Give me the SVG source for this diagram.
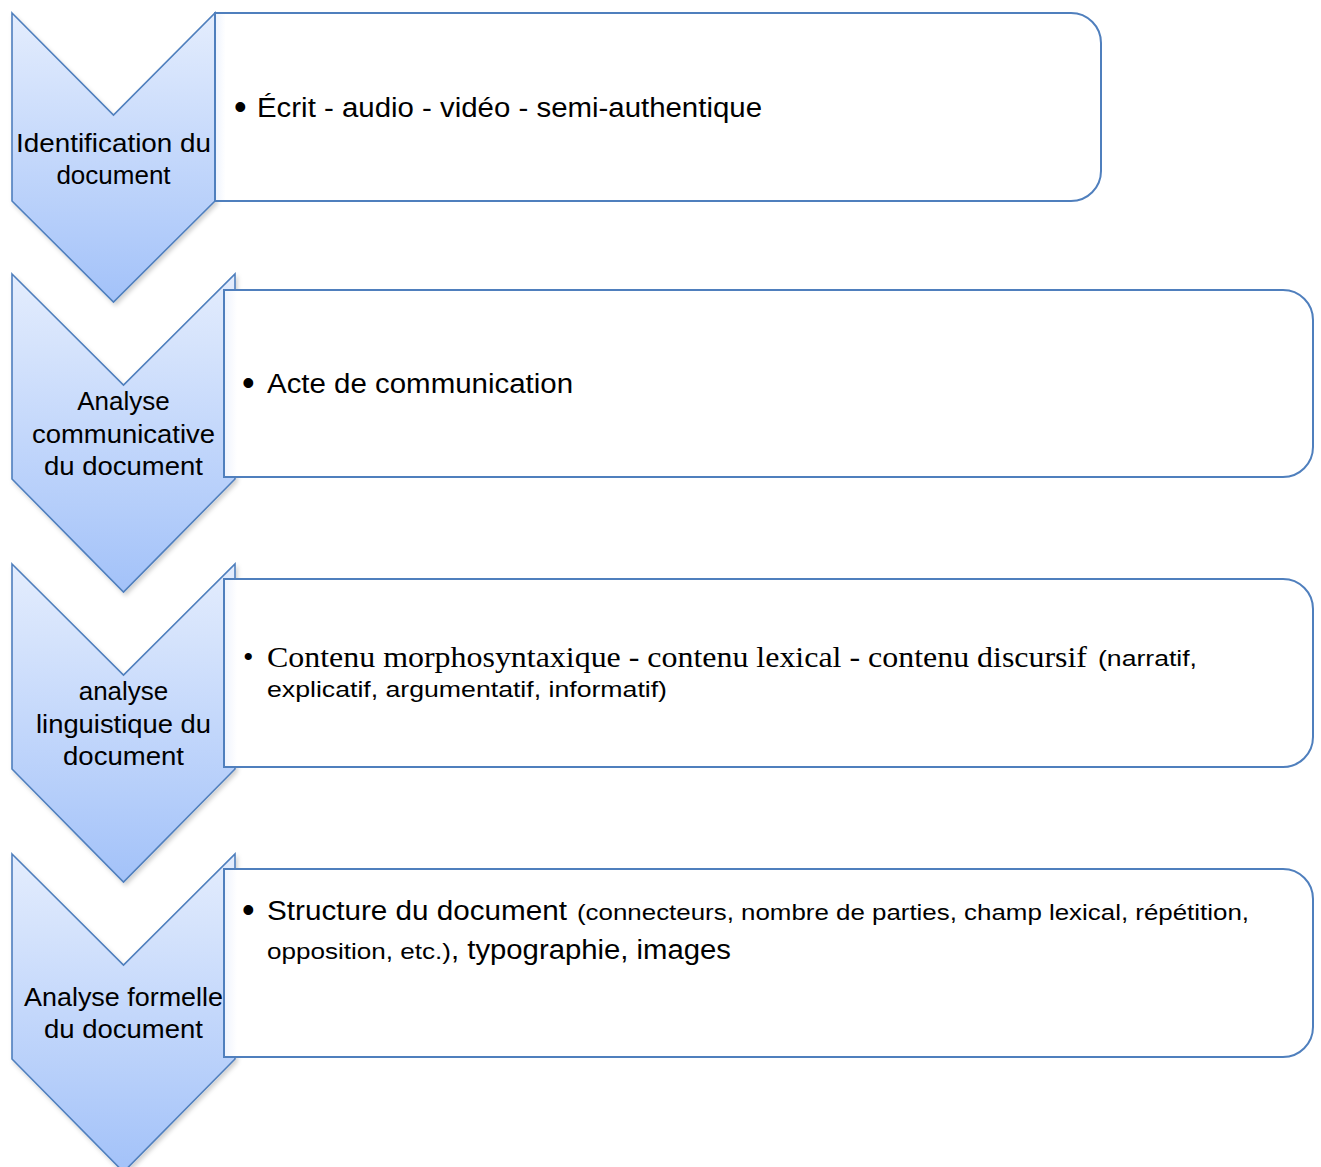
<svg xmlns="http://www.w3.org/2000/svg" width="1321" height="1167" viewBox="0 0 1321 1167">
  <defs>
    <linearGradient id="chevFill" x1="0" y1="0" x2="0" y2="1">
      <stop offset="0" stop-color="#e4edfd"/>
      <stop offset="1" stop-color="#a3c2f9"/>
    </linearGradient>
    <linearGradient id="boxFill" x1="0" y1="0" x2="1" y2="0">
      <stop offset="0" stop-color="#eef3fd"/>
      <stop offset="0.012" stop-color="#ffffff"/>
      <stop offset="1" stop-color="#ffffff"/>
    </linearGradient>
    <filter id="shadow" x="-10%" y="-10%" width="130%" height="130%">
      <feDropShadow dx="2" dy="3" stdDeviation="2" flood-color="#000" flood-opacity="0.18"/>
    </filter>
  </defs>
  <style>
    .chev { fill: url(#chevFill); stroke: #4f7fbd; stroke-width: 1.6; stroke-linejoin: miter; filter: url(#shadow); }
    .box { fill: url(#boxFill); stroke: #4f7fbd; stroke-width: 2; }
    .lbl { font-family: "Liberation Sans", Arial, sans-serif; font-size: 26px; fill: #000; text-anchor: middle; }
    .txt { font-family: "Liberation Sans", Arial, sans-serif; font-size: 27px; fill: #000; }
    .bul { font-family: "Liberation Sans", Arial, sans-serif; font-size: 36px; fill: #000; }
    .sm { font-family: "Liberation Sans", Arial, sans-serif; font-size: 22px; fill: #000; }
    .serif { font-family: "Liberation Serif", "Times New Roman", serif; font-size: 30px; fill: #000; }
  </style>

  <g id="step1">
    <polygon class="chev" points="12,13 113.5,115 215,13 215,201 113.5,302 12,201"/>
    <path class="box" d="M215,13 H1071 A30,30 0 0 1 1101,43 V171 A30,30 0 0 1 1071,201 H215 Z"/>
    <text class="lbl" x="113.5" y="152" textLength="195" lengthAdjust="spacingAndGlyphs">Identification du</text>
    <text class="lbl" x="113.5" y="184">document</text>
    <text class="bul" x="234" y="119">•</text>
    <text class="txt" x="257" y="117" textLength="505" lengthAdjust="spacingAndGlyphs">Écrit - audio - vidéo - semi-authentique</text>
  </g>

  <g id="step2">
    <polygon class="chev" points="12,274 123.5,385 235,274 235,479 123.5,592 12,479"/>
    <path class="box" d="M224,290 H1283 A30,30 0 0 1 1313,320 V447 A30,30 0 0 1 1283,477 H224 Z"/>
    <text class="lbl" x="123.5" y="410">Analyse</text>
    <text class="lbl" x="123.5" y="443" textLength="183" lengthAdjust="spacingAndGlyphs">communicative</text>
    <text class="lbl" x="123.5" y="475" textLength="159" lengthAdjust="spacingAndGlyphs">du document</text>
    <text class="bul" x="242" y="395">•</text>
    <text class="txt" x="267" y="393" textLength="306" lengthAdjust="spacingAndGlyphs">Acte de communication</text>
  </g>

  <g id="step3">
    <polygon class="chev" points="12,564 123.5,675 235,564 235,769 123.5,882 12,769"/>
    <path class="box" d="M224,579 H1283 A30,30 0 0 1 1313,609 V737 A30,30 0 0 1 1283,767 H224 Z"/>
    <text class="lbl" x="123.5" y="700">analyse</text>
    <text class="lbl" x="123.5" y="733" textLength="175" lengthAdjust="spacingAndGlyphs">linguistique du</text>
    <text class="lbl" x="123.5" y="765" textLength="121" lengthAdjust="spacingAndGlyphs">document</text>
    <text class="serif" x="243" y="667">•</text>
    <text class="serif" x="267" y="667" textLength="820" lengthAdjust="spacingAndGlyphs">Contenu morphosyntaxique - contenu lexical - contenu discursif</text>
    <text class="sm" x="1098" y="666" textLength="99" lengthAdjust="spacingAndGlyphs">(narratif,</text>
    <text class="sm" x="267" y="697" textLength="400" lengthAdjust="spacingAndGlyphs">explicatif, argumentatif, informatif)</text>
  </g>

  <g id="step4">
    <polygon class="chev" points="12,854 123.5,965 235,854 235,1059 123.5,1172 12,1059"/>
    <path class="box" d="M224,869 H1283 A30,30 0 0 1 1313,899 V1027 A30,30 0 0 1 1283,1057 H224 Z"/>
    <text class="lbl" x="123.5" y="1006" textLength="199" lengthAdjust="spacingAndGlyphs">Analyse formelle</text>
    <text class="lbl" x="123.5" y="1038" textLength="159" lengthAdjust="spacingAndGlyphs">du document</text>
    <text class="bul" x="242" y="922">•</text>
    <text class="txt" x="267" y="920" textLength="300" lengthAdjust="spacingAndGlyphs">Structure du document</text>
    <text class="sm" x="577" y="920" textLength="672" lengthAdjust="spacingAndGlyphs">(connecteurs, nombre de parties, champ lexical, répétition,</text>
    <text class="sm" x="267" y="959" textLength="184" lengthAdjust="spacingAndGlyphs">opposition, etc.)</text>
    <text class="txt" x="451" y="959" textLength="280" lengthAdjust="spacingAndGlyphs">, typographie, images</text>
  </g>

  <g id="connectors"></g>
</svg>
